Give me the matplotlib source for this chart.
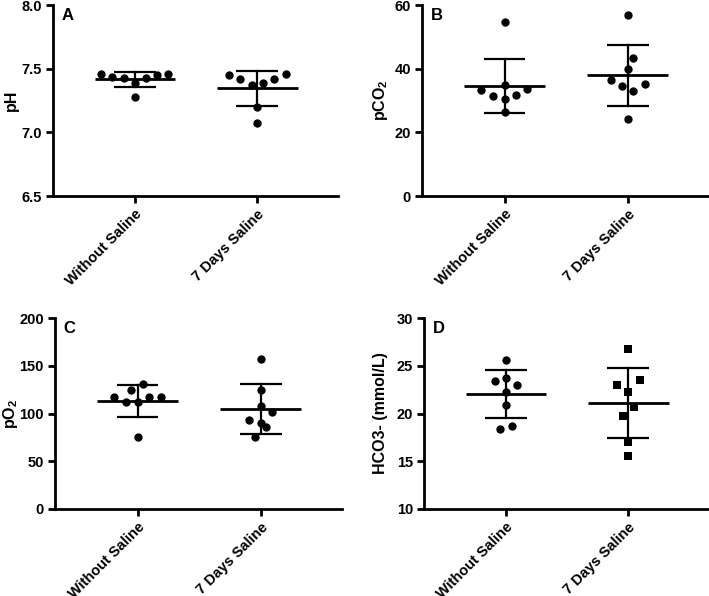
import numpy as np
import matplotlib
matplotlib.use("Agg")
import matplotlib.pyplot as plt
import matplotlib.transforms as mtransforms

plt.rcParams['font.family'] = ['Liberation Sans', 'DejaVu Sans']
plt.rcParams['font.weight'] = 'bold'
plt.rcParams['mathtext.fontset'] = 'custom'
plt.rcParams['mathtext.rm'] = 'Liberation Sans:bold'
plt.rcParams['mathtext.bf'] = 'Liberation Sans:bold'
plt.rcParams['mathtext.it'] = 'Liberation Sans:bold'
plt.rcParams['mathtext.default'] = 'bf'

categories = ["Without Saline", "7 Days Saline"]

ph_without = [7.456, 7.437, 7.424, 7.390, 7.427, 7.453, 7.456, 7.277]
ph_7days = [7.453, 7.419, 7.372, 7.390, 7.419, 7.456, 7.196, 7.076]

pco2_without = [54.8, 33.3, 31.5, 35.0, 30.4, 31.7, 33.5, 26.5]
pco2_7days = [57.0, 43.3, 39.8, 36.4, 34.5, 35.2, 33.0, 24.1]

po2_without = [131.1, 124.8, 117.1, 111.9, 111.9, 116.8, 117.8, 75.2]
po2_7days = [157.0, 124.8, 108.0, 101.7, 93.0, 89.9, 85.7, 75.2]

hco3_without = [25.6, 23.4, 23.7, 23.0, 22.3, 20.9, 18.4, 18.7]
hco3_7days = [26.8, 23.0, 23.5, 22.3, 20.7, 19.7, 17.0, 15.5]

# horizontal jitter offsets (layout only)
x_off = {
    'A': ([-0.85, -0.57, -0.28, 0.0, 0.27, 0.55, 0.83, 0.0], [-0.70, -0.42, -0.14, 0.14, 0.42, 0.70, 0.0, 0.0]),
    'B': ([0.0, -0.57, -0.29, 0.0, 0.0, 0.28, 0.56, 0.0], [0.0, 0.14, 0.0, -0.42, -0.14, 0.42, 0.14, 0.0]),
    'C': ([0.14, -0.16, -0.57, -0.28, 0.0, 0.29, 0.57, 0.0], [0.0, 0.0, 0.0, 0.28, -0.29, 0.0, 0.14, -0.14]),
    'D': ([0.0, -0.27, 0.0, 0.28, 0.0, 0.0, -0.14, 0.14], [0.0, -0.28, 0.28, 0.0, 0.14, -0.14, 0.0, 0.0]),
}
JIT = 0.33

panels = [
    ('A', ph_without, ph_7days, 'pH', (6.5, 8.0), [6.5, 7.0, 7.5, 8.0], '{:.1f}', ['o', 'o']),
    ('B', pco2_without, pco2_7days, 'pCO$_2$', (0, 60), [0, 20, 40, 60], '{:.0f}', ['o', 'o']),
    ('C', po2_without, po2_7days, 'pO$_2$', (0, 200), [0, 50, 100, 150, 200], '{:.0f}', ['o', 'o']),
    ('D', hco3_without, hco3_7days, 'HCO3- (mmol/L)', (10, 30), [10, 15, 20, 25, 30], '{:.0f}', ['o', 's']),
]

W, H = 709, 596
fig = plt.figure(figsize=(W / 100, H / 100), dpi=100)

rects = {
    'A': (53, 5, 338, 196),
    'B': (422, 5, 709, 196),
    'C': (55, 318, 342, 509),
    'D': (424, 318, 709, 509),
}
label_x = {'A': 11, 'B': 380, 'C': 10, 'D': 381}

for letter, g1, g2, ylabel, ylim, yticks, fmt, markers in panels:
    x0, y0, x1, y1 = rects[letter]
    ax = fig.add_axes([x0 / W, 1 - y1 / H, (x1 - x0) / W, (y1 - y0) / H])
    for i, (vals, mk) in enumerate(zip([g1, g2], markers)):
        vals = np.array(vals)
        xs = i + JIT * np.array(x_off[letter][i])
        ax.scatter(xs, vals, s=36 if mk == 'o' else 32, marker=mk, color='black', zorder=3, linewidths=0)
        m = vals.mean()
        sd = vals.std(ddof=1)
        ax.plot([i - 0.33, i + 0.33], [m, m], color='black', lw=2.0, zorder=4, solid_capstyle='butt')
        ax.plot([i, i], [m - sd, m + sd], color='black', lw=1.6, zorder=4)
        for v in (m - sd, m + sd):
            ax.plot([i - 0.17, i + 0.17], [v, v], color='black', lw=1.6, zorder=4, solid_capstyle='butt')
    ax.set_xlim(-0.67, 1.66)
    ax.set_ylim(*ylim)
    ax.set_yticks(yticks)
    ax.set_yticklabels([fmt.format(t) for t in yticks], fontsize=10.5, fontweight='bold')
    ax.set_xticks([0, 1])
    ax.set_xticklabels(categories, rotation=45, ha='right', rotation_mode='anchor', fontsize=10.5, fontweight='bold')
    shift = mtransforms.ScaledTranslation(-4 / 100, 1 / 100, fig.dpi_scale_trans)
    for lab in ax.get_xticklabels():
        lab.set_transform(lab.get_transform() + shift)
    for s in ['top', 'right']:
        ax.spines[s].set_visible(False)
    for s in ['left', 'bottom']:
        ax.spines[s].set_linewidth(2.0)
    ax.tick_params(axis='both', width=2.0, length=5, direction='out', pad=3)
    ax.set_ylabel(ylabel, fontsize=11.5, fontweight='bold')
    ax.yaxis.set_label_coords((label_x[letter] - x0) / (x1 - x0), 0.5)
    ax.yaxis.label.set_verticalalignment('center')
    ax.text(0.03, 0.985, letter, transform=ax.transAxes, fontsize=12, fontweight='bold', va='top', ha='left')
    ax.patch.set_visible(False)

fig.savefig('out.png', dpi=100)
